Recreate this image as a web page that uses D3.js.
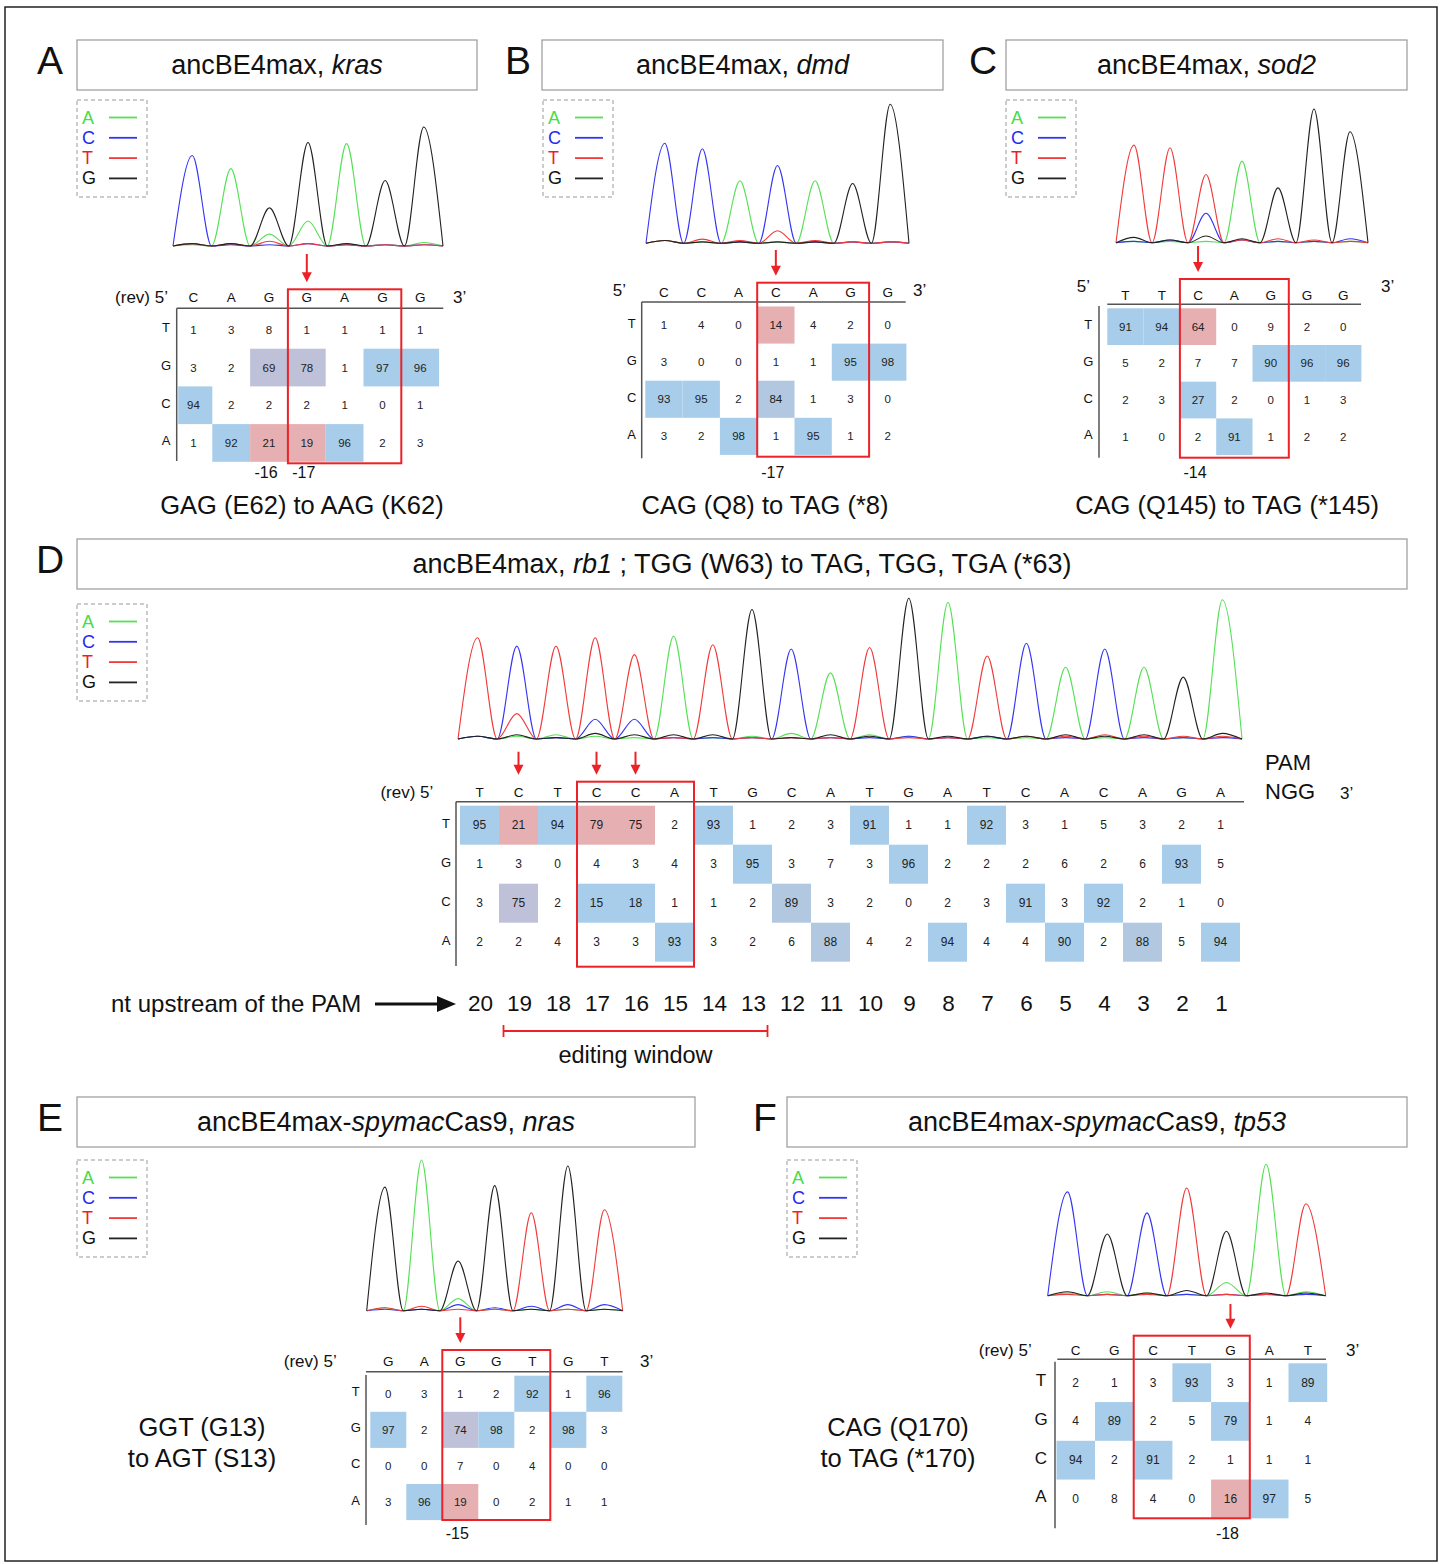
<!DOCTYPE html>
<html>
<head>
<meta charset="utf-8">
<script src="https://d3js.org/d3.v7.min.js"></script>
<style>
body { margin: 0; background: #fff; }
svg text { font-family: "Liberation Sans", Arial, Helvetica, sans-serif; fill: #111; }
</style>
</head>
<body>
<div id="fig"></div>
<script>
// rows of every base table, top to bottom
var tableRows = ["T", "G", "C", "A"];
// channels of the trace rows below: [A, C, T, G] peak height per base call
var traceBases = ["A", "C", "T", "G"];

// A  kras
var krasSeq = ["C", "A", "G", "G", "A", "G", "G"];
var krasTable = [
  [1, 3, 8, 1, 1, 1, 1],
  [3, 2, 69, 78, 1, 97, 96],
  [94, 2, 2, 2, 1, 0, 1],
  [1, 92, 21, 19, 96, 2, 3]
];
var krasTrace = [[1, 76, 2, 2], [65, 1, 2, 2], [10, 1, 4, 32], [21, 2, 2, 87], [86, 1, 1, 2], [1, 1, 1, 55], [3, 1, 1, 100]];
var krasEdited = [2, 3];
var krasArrows = [3];
var krasCodon = [3, 5];
var krasPos = [[2, "-16"], [3, "-17"]];

// B  dmd
var dmdSeq = ["C", "C", "A", "C", "A", "G", "G"];
var dmdTable = [
  [1, 4, 0, 14, 4, 2, 0],
  [3, 0, 0, 1, 1, 95, 98],
  [93, 95, 2, 84, 1, 3, 0],
  [3, 2, 98, 1, 95, 1, 2]
];
var dmdTrace = [[2, 72, 2, 2], [1, 68, 3, 1], [45, 1, 2, 1], [1, 56, 9, 1], [45, 1, 2, 1], [1, 1, 1, 43], [1, 1, 1, 100]];
var dmdEdited = [3];
var dmdArrows = [3];
var dmdCodon = [3, 5];
var dmdPos = [[3, "-17"]];

// C  sod2
var sod2Seq = ["T", "T", "C", "A", "G", "G", "G"];
var sod2Table = [
  [91, 94, 64, 0, 9, 2, 0],
  [5, 2, 7, 7, 90, 96, 96],
  [2, 3, 27, 2, 0, 1, 3],
  [1, 0, 2, 91, 1, 2, 2]
];
var sod2Trace = [[1, 1, 73, 4], [1, 2, 71, 2], [1, 22, 51, 5], [61, 2, 2, 3], [1, 1, 3, 41], [1, 1, 2, 100], [1, 3, 1, 83]];
var sod2Edited = [2];
var sod2Arrows = [2];
var sod2Codon = [2, 4];
var sod2Pos = [[2, "-14"]];

// D  rb1
var rb1Seq = ["T", "C", "T", "C", "C", "A", "T", "G", "C", "A", "T", "G", "A", "T", "C", "A", "C", "A", "G", "A"];
var rb1Table = [
  [95, 21, 94, 79, 75, 2, 93, 1, 2, 3, 91, 1, 1, 92, 3, 1, 5, 3, 2, 1],
  [1, 3, 0, 4, 3, 4, 3, 95, 3, 7, 3, 96, 2, 2, 2, 6, 2, 6, 93, 5],
  [3, 75, 2, 15, 18, 1, 1, 2, 89, 3, 2, 0, 2, 3, 91, 3, 92, 2, 1, 0],
  [2, 2, 4, 3, 3, 93, 3, 2, 6, 88, 4, 2, 94, 4, 4, 90, 2, 88, 5, 94]
];
var rb1Trace = [
  [2, 2, 72, 2], [2, 66, 18, 3], [3, 1, 66, 1], [2, 14, 72, 4], [1, 14, 60, 3],
  [73, 1, 1, 3], [1, 1, 67, 3], [2, 1, 1, 92], [4, 64, 1, 1], [47, 1, 1, 3],
  [3, 1, 65, 2], [2, 2, 1, 100], [97, 1, 1, 2], [1, 2, 59, 2], [1, 68, 2, 2],
  [51, 1, 2, 3], [1, 64, 3, 2], [51, 1, 2, 3], [1, 1, 2, 44], [99, 1, 2, 4]
];
var rb1Edited = [1, 3, 4];
var rb1Arrows = [1, 3, 4];
var rb1Codon = [3, 5];
var rb1Upstream = ["20", "19", "18", "17", "16", "15", "14", "13", "12", "11", "10", "9", "8", "7", "6", "5", "4", "3", "2", "1"];
var rb1Window = [1, 7]; // columns of nt 19 .. 13

// E  nras
var nrasSeq = ["G", "A", "G", "G", "T", "G", "T"];
var nrasTable = [
  [0, 3, 1, 2, 92, 1, 96],
  [97, 2, 74, 98, 2, 98, 3],
  [0, 0, 7, 0, 4, 0, 0],
  [3, 96, 19, 0, 2, 1, 1]
];
var nrasTrace = [[2, 1, 2, 82], [100, 1, 3, 1], [8, 4, 1, 33], [1, 2, 1, 83], [1, 3, 65, 1], [1, 4, 1, 96], [1, 4, 67, 1]];
var nrasEdited = [2];
var nrasArrows = [2];
var nrasCodon = [2, 4];
var nrasPos = [[2, "-15"]];

// F  tp53
var tp53Seq = ["C", "G", "C", "T", "G", "A", "T"];
var tp53Table = [
  [2, 1, 3, 93, 3, 1, 89],
  [4, 89, 2, 5, 79, 1, 4],
  [94, 2, 91, 2, 1, 1, 1],
  [0, 8, 4, 0, 16, 97, 5]
];
var tp53Trace = [[2, 79, 1, 3], [3, 1, 1, 47], [2, 63, 1, 2], [1, 1, 82, 4], [10, 1, 1, 49], [100, 1, 1, 2], [3, 1, 70, 2]];
var tp53Edited = [4];
var tp53Arrows = [4];
var tp53Codon = [2, 4];
var tp53Pos = [[4, "-18"]];

var RED = "#ec2227";
var traceColor = d3.scaleOrdinal().domain(traceBases).range(["#55e055", "#3535f2", "#f03a3a", "#222222"]);
var legendColor = d3.scaleOrdinal().domain(traceBases).range(["#44dd44", "#1f2bf0", "#f01f1f", "#111111"]);
var refColor = d3.scaleThreshold().domain([60, 80, 90]).range(["#a7cdea", "#bfc1d9", "#b1c8e0", "#a7cdea"]);
var editColor = "#e6b0b2";

var svg = d3.select("#fig").append("svg")
  .attr("width", 1443)
  .attr("height", 1564);

svg.append("rect")
  .attr("x", 5).attr("y", 7)
  .attr("width", 1432).attr("height", 1554)
  .attr("fill", "none")
  .attr("stroke", "#222")
  .attr("stroke-width", 1.5);

var Base_Panel = function(opt) {
  this.seq = opt.seq;
  this.table = opt.table;
  this.trace = opt.trace;
  this.edited = opt.edited;
  this.arrows = opt.arrows;
  this.codon = opt.codon;
  this.pos = opt.pos || [];
  this.g = opt.g;
  this.plot = svg.append("g").attr("class", "base_panel");
  this.draw();
}

Base_Panel.prototype.draw = function() {
  this.generateScales();
  this.addTrace();
  this.addCells();
  this.addHeader();
  this.addMarks();
};

Base_Panel.prototype.generateScales = function() {
  var g = this.g;
  var n = this.seq.length;
  this.xScale = d3.scaleBand()
    .domain(d3.range(n))
    .range([g.x0, g.x0 + n * g.step]);
  this.yScale = d3.scaleBand()
    .domain(tableRows)
    .range([g.rowTop, g.rowTop + 4 * g.rowStep]);
  this.traceX = d3.scaleLinear()
    .domain([-0.5, n - 0.5])
    .range([g.chromX0, g.chromX1]);
  this.traceY = d3.scaleLinear()
    .domain([0, 100])
    .range([g.chromBase, g.chromTop]);
};

Base_Panel.prototype.addTrace = function() {
  var that = this;
  var line = d3.line()
    .x(function(d) { return that.traceX(d[0]) })
    .y(function(d) { return that.traceY(d[1]) })
    .curve(d3.curveMonotoneX);

  traceBases.forEach(function(b, k) {
    var pts = [[-0.5, 0]];
    that.trace.forEach(function(t, i) {
      pts.push([i, t[k]]);
      pts.push([i + 0.5, 0]);
    });
    that.plot.append("path")
      .attr("d", line(pts))
      .attr("fill", "none")
      .attr("stroke", traceColor(b))
      .attr("stroke-width", 1.1);
  });
};

Base_Panel.prototype.addCells = function() {
  var that = this;
  var g = this.g;
  var cells = [];
  this.table.forEach(function(row, r) {
    row.forEach(function(v, c) {
      var base = tableRows[r];
      var product = that.seq[c] == "C" ? "T" : "A";
      cells.push({
        "row": base,
        "col": c,
        "v": v,
        "ref": base == that.seq[c],
        "edit": that.edited.indexOf(c) >= 0 && base == product
      });
    });
  });

  var cellX = function(d) { return Math.max(that.xScale(d.col), g.vlineX + 1.5) };

  this.plot.selectAll("rect.cell")
    .data(cells.filter(function(d) { return d.ref || d.edit }))
    .enter().append("rect")
    .attr("class", "cell")
    .attr("x", cellX)
    .attr("y", function(d) { return that.yScale(d.row) })
    .attr("width", function(d) { return that.xScale(d.col) + that.xScale.bandwidth() - cellX(d) })
    .attr("height", this.yScale.bandwidth())
    .attr("fill", function(d) {
      if (d.edit) return editColor;
      return g.flatRef ? refColor(95) : refColor(d.v);
    });

  this.plot.selectAll("text.num")
    .data(cells)
    .enter().append("text")
    .attr("class", "num")
    .attr("x", function(d) { return that.xScale(d.col) + that.xScale.bandwidth() / 2 })
    .attr("y", function(d) { return that.yScale(d.row) + that.yScale.bandwidth() / 2 })
    .attr("text-anchor", "middle")
    .attr("dominant-baseline", "central")
    .style("font-size", (g.numSize || 11.5) + "px")
    .style("fill", "#222")
    .text(function(d) { return d.v });
};

Base_Panel.prototype.addHeader = function() {
  var that = this;
  var g = this.g;

  this.plot.selectAll("text.col")
    .data(this.seq)
    .enter().append("text")
    .attr("class", "col")
    .attr("x", function(d, i) { return that.xScale(i) + that.xScale.bandwidth() / 2 })
    .attr("y", g.headerY)
    .attr("text-anchor", "middle")
    .attr("dominant-baseline", "central")
    .style("font-size", "13.5px")
    .text(function(d) { return d });

  this.plot.selectAll("text.rowlab")
    .data(tableRows)
    .enter().append("text")
    .attr("class", "rowlab")
    .attr("x", g.rowLabelX)
    .attr("y", function(d) { return that.yScale(d) + that.yScale.bandwidth() / 2 - 2 })
    .attr("text-anchor", "middle")
    .attr("dominant-baseline", "central")
    .style("font-size", (g.rowSize || 13) + "px")
    .text(function(d) { return d });

  this.plot.append("line")
    .attr("x1", g.hlineX0).attr("x2", g.hlineX1)
    .attr("y1", g.hlineY).attr("y2", g.hlineY)
    .attr("stroke", "#555").attr("stroke-width", 1.5);

  this.plot.append("line")
    .attr("x1", g.vlineX).attr("x2", g.vlineX)
    .attr("y1", g.vlineY0).attr("y2", g.vlineY1)
    .attr("stroke", "#555").attr("stroke-width", 1.5);

  this.plot.append("text")
    .attr("x", g.fiveX).attr("y", g.fiveY)
    .attr("text-anchor", "end")
    .attr("dominant-baseline", "central")
    .style("font-size", "17px")
    .text(g.fiveText);

  this.plot.append("text")
    .attr("x", g.threeX).attr("y", g.threeY)
    .attr("dominant-baseline", "central")
    .style("font-size", "17px")
    .text("3\u2019");
};

Base_Panel.prototype.addMarks = function() {
  var that = this;
  var g = this.g;
  var bx0 = this.xScale(this.codon[0]);
  var bx1 = this.xScale(this.codon[1]) + this.xScale.bandwidth();

  this.plot.append("rect")
    .attr("x", bx0).attr("y", g.boxTop)
    .attr("width", bx1 - bx0)
    .attr("height", g.boxBottom - g.boxTop)
    .attr("fill", "none")
    .attr("stroke", RED)
    .attr("stroke-width", 2);

  var tip = g.boxTop - 7;
  this.arrows.forEach(function(c) {
    var x = that.xScale(c) + that.xScale.bandwidth() / 2;
    that.plot.append("line")
      .attr("x1", x).attr("x2", x)
      .attr("y1", g.arrowTop).attr("y2", tip - 8)
      .attr("stroke", RED).attr("stroke-width", 2);
    that.plot.append("path")
      .attr("d", "M" + (x - 5) + "," + (tip - 10) + "L" + (x + 5) + "," + (tip - 10) + "L" + x + "," + tip + "Z")
      .attr("fill", RED);
  });

  this.plot.selectAll("text.pos")
    .data(this.pos)
    .enter().append("text")
    .attr("class", "pos")
    .attr("x", function(d) { return that.xScale(d[0]) + that.xScale.bandwidth() / 2 - 3 })
    .attr("y", g.posY)
    .attr("text-anchor", "middle")
    .attr("dominant-baseline", "central")
    .style("font-size", "16px")
    .text(function(d) { return d[1] });
};

function addTitle(letter, lx, ly, box, parts) {
  svg.append("text")
    .attr("x", lx).attr("y", ly)
    .attr("text-anchor", "middle")
    .style("font-size", "39px")
    .text(letter);
  svg.append("rect")
    .attr("x", box[0]).attr("y", box[1])
    .attr("width", box[2]).attr("height", box[3])
    .attr("fill", "none")
    .attr("stroke", "#999")
    .attr("stroke-width", 1.2);
  var t = svg.append("text")
    .attr("x", box[0] + box[2] / 2)
    .attr("y", box[1] + box[3] / 2)
    .attr("text-anchor", "middle")
    .attr("dominant-baseline", "central")
    .style("font-size", "27px");
  parts.forEach(function(p) {
    t.append("tspan")
      .style("font-style", p[1] ? "italic" : "normal")
      .text(p[0]);
  });
}

function addLegend(x, y) {
  svg.append("rect")
    .attr("x", x).attr("y", y)
    .attr("width", 70).attr("height", 97)
    .attr("fill", "none")
    .attr("stroke", "#999")
    .attr("stroke-dasharray", "4,3");
  traceBases.forEach(function(b, i) {
    var yy = y + 17.5 + i * 20.3;
    svg.append("text")
      .attr("x", x + 5).attr("y", yy)
      .attr("dominant-baseline", "central")
      .style("font-size", "18px")
      .style("fill", legendColor(b))
      .text(b);
    svg.append("line")
      .attr("x1", x + 32).attr("x2", x + 60)
      .attr("y1", yy).attr("y2", yy)
      .attr("stroke", traceColor(b))
      .attr("stroke-width", 1.8);
  });
}

function addCaption(lines, x, y) {
  lines.forEach(function(s, i) {
    svg.append("text")
      .attr("x", x).attr("y", y + i * 31)
      .attr("text-anchor", "middle")
      .attr("dominant-baseline", "central")
      .style("font-size", "25.5px")
      .text(s);
  });
}

// ---- panel A
addTitle("A", 50, 74, [77, 40, 400, 50], [["ancBE4max, ", false], ["kras", true]]);
addLegend(77, 100);
new Base_Panel({
  seq: krasSeq, table: krasTable, trace: krasTrace, edited: krasEdited,
  arrows: krasArrows, codon: krasCodon, pos: krasPos,
  g: {
    x0: 174.5, step: 37.8, rowTop: 311, rowStep: 37.7, headerY: 297.5,
    hlineY: 308.3, hlineX0: 176.7, hlineX1: 443.3, vlineX: 176.7, vlineY0: 308.3, vlineY1: 461,
    rowLabelX: 166, chromX0: 173, chromX1: 443, chromBase: 246, chromTop: 127,
    fiveText: "(rev) 5\u2019", fiveX: 168, fiveY: 297, threeX: 453, threeY: 297,
    boxTop: 289.3, boxBottom: 463.3, arrowTop: 254, posY: 472.3
  }
});
addCaption(["GAG (E62) to AAG (K62)"], 302, 505);

// ---- panel B
addTitle("B", 518, 74, [542, 40, 401, 50], [["ancBE4max, ", false], ["dmd", true]]);
addLegend(543, 100);
new Base_Panel({
  seq: dmdSeq, table: dmdTable, trace: dmdTrace, edited: dmdEdited,
  arrows: dmdArrows, codon: dmdCodon, pos: dmdPos,
  g: {
    x0: 645.3, step: 37.3, rowTop: 306.5, rowStep: 37.1, headerY: 292.7,
    hlineY: 302, hlineX0: 641.7, hlineX1: 905.7, vlineX: 641.7, vlineY0: 302, vlineY1: 458.3,
    rowLabelX: 631.7, chromX0: 646, chromX1: 909, chromBase: 243.3, chromTop: 104.3,
    fiveText: "5\u2019", fiveX: 626, fiveY: 290, threeX: 913, threeY: 290,
    boxTop: 282.7, boxBottom: 456.7, arrowTop: 250, posY: 472.3
  }
});
addCaption(["CAG (Q8) to TAG (*8)"], 765, 505);

// ---- panel C
addTitle("C", 983, 74, [1006, 40, 401, 50], [["ancBE4max, ", false], ["sod2", true]]);
addLegend(1006, 100);
new Base_Panel({
  seq: sod2Seq, table: sod2Table, trace: sod2Trace, edited: sod2Edited,
  arrows: sod2Arrows, codon: sod2Codon, pos: sod2Pos,
  g: {
    x0: 1107.3, step: 36.3, rowTop: 308.3, rowStep: 36.7, headerY: 295,
    hlineY: 304.3, hlineX0: 1107.3, hlineX1: 1361, vlineX: 1099, vlineY0: 306, vlineY1: 457.7,
    rowLabelX: 1088.3, chromX0: 1116, chromX1: 1368, chromBase: 242.7, chromTop: 109,
    fiveText: "5\u2019", fiveX: 1090, fiveY: 286.7, threeX: 1381, threeY: 286,
    boxTop: 279, boxBottom: 457.7, arrowTop: 246, posY: 472.3
  }
});
addCaption(["CAG (Q145) to TAG (*145)"], 1227, 505);

// ---- panel D
addTitle("D", 50, 573, [77, 539, 1330, 50],
  [["ancBE4max, ", false], ["rb1", true], [" ; TGG (W63) to TAG, TGG, TGA (*63)", false]]);
addLegend(77, 604);
var rb1 = new Base_Panel({
  seq: rb1Seq, table: rb1Table, trace: rb1Trace, edited: rb1Edited,
  arrows: rb1Arrows, codon: rb1Codon,
  g: {
    x0: 460, step: 39, rowTop: 805.7, rowStep: 39, headerY: 792.3,
    hlineY: 801.7, hlineX0: 456, hlineX1: 1244, vlineX: 456, vlineY0: 801.7, vlineY1: 966,
    rowLabelX: 446, chromX0: 458, chromX1: 1242, chromBase: 739, chromTop: 598.3,
    fiveText: "(rev) 5\u2019", fiveX: 433.3, fiveY: 792.3, threeX: 1340, threeY: 793,
    boxTop: 781.7, boxBottom: 966.7, arrowTop: 751.7, posY: 0, numSize: 12
  }
});

svg.append("text").attr("x", 1265).attr("y", 762)
  .attr("dominant-baseline", "central").style("font-size", "22px").text("PAM");
svg.append("text").attr("x", 1265).attr("y", 791)
  .attr("dominant-baseline", "central").style("font-size", "22px").text("NGG");

svg.append("text").attr("x", 111).attr("y", 1003)
  .attr("dominant-baseline", "central").style("font-size", "24px").text("nt upstream of the PAM");
svg.append("line")
  .attr("x1", 375).attr("x2", 440).attr("y1", 1004).attr("y2", 1004)
  .attr("stroke", "#111").attr("stroke-width", 3);
svg.append("path").attr("d", "M437,996L456,1004L437,1012Z").attr("fill", "#111");

svg.selectAll("text.upstream")
  .data(rb1Upstream)
  .enter().append("text")
  .attr("class", "upstream")
  .attr("x", function(d, i) { return rb1.xScale(i) + rb1.xScale.bandwidth() / 2 + 1 })
  .attr("y", 1003)
  .attr("text-anchor", "middle")
  .attr("dominant-baseline", "central")
  .style("font-size", "22.5px")
  .text(function(d) { return d });

var wx0 = rb1.xScale(rb1Window[0]) + rb1.xScale.bandwidth() / 2 - 15;
var wx1 = rb1.xScale(rb1Window[1]) + rb1.xScale.bandwidth() / 2 + 15;
svg.append("line").attr("x1", wx0).attr("x2", wx1).attr("y1", 1031).attr("y2", 1031)
  .attr("stroke", RED).attr("stroke-width", 1.8);
[wx0, wx1].forEach(function(x) {
  svg.append("line").attr("x1", x).attr("x2", x).attr("y1", 1025).attr("y2", 1037)
    .attr("stroke", RED).attr("stroke-width", 1.8);
});
svg.append("text").attr("x", (wx0 + wx1) / 2).attr("y", 1055)
  .attr("text-anchor", "middle").attr("dominant-baseline", "central")
  .style("font-size", "23.5px").text("editing window");

// ---- panel E
addTitle("E", 50, 1131, [77, 1097, 618, 50],
  [["ancBE4max-", false], ["spymac", true], ["Cas9, ", false], ["nras", true]]);
addLegend(77, 1160);
new Base_Panel({
  seq: nrasSeq, table: nrasTable, trace: nrasTrace, edited: nrasEdited,
  arrows: nrasArrows, codon: nrasCodon, pos: nrasPos,
  g: {
    x0: 370.3, step: 36, rowTop: 1375.7, rowStep: 36.1, headerY: 1361.7,
    hlineY: 1371.7, hlineX0: 366, hlineX1: 622.7, vlineX: 366, vlineY0: 1375, vlineY1: 1525,
    rowLabelX: 355.7, chromX0: 366.7, chromX1: 622.7, chromBase: 1310.7, chromTop: 1160,
    fiveText: "(rev) 5\u2019", fiveX: 336.7, fiveY: 1361.7, threeX: 640, threeY: 1361.7,
    boxTop: 1350, boxBottom: 1520, arrowTop: 1317.3, posY: 1533.3
  }
});
addCaption(["GGT (G13)", "to AGT (S13)"], 202, 1427);

// ---- panel F
addTitle("F", 765, 1131, [787, 1097, 620, 50],
  [["ancBE4max-", false], ["spymac", true], ["Cas9, ", false], ["tp53", true]]);
addLegend(787, 1160);
new Base_Panel({
  seq: tp53Seq, table: tp53Table, trace: tp53Trace, edited: tp53Edited,
  arrows: tp53Arrows, codon: tp53Codon, pos: tp53Pos,
  g: {
    x0: 1056.3, step: 38.7, rowTop: 1363.3, rowStep: 38.75, headerY: 1350,
    hlineY: 1359.3, hlineX0: 1057.3, hlineX1: 1326, vlineX: 1055, vlineY0: 1361.7, vlineY1: 1528.3,
    rowLabelX: 1041, rowSize: 17, numSize: 12, flatRef: true,
    chromX0: 1047.7, chromX1: 1325.7, chromBase: 1295.7, chromTop: 1164.3,
    fiveText: "(rev) 5\u2019", fiveX: 1031.7, fiveY: 1350, threeX: 1346, threeY: 1350,
    boxTop: 1335.7, boxBottom: 1518.3, arrowTop: 1304, posY: 1533.3
  }
});
addCaption(["CAG (Q170)", "to TAG (*170)"], 898, 1427);
</script>
</body>
</html>
